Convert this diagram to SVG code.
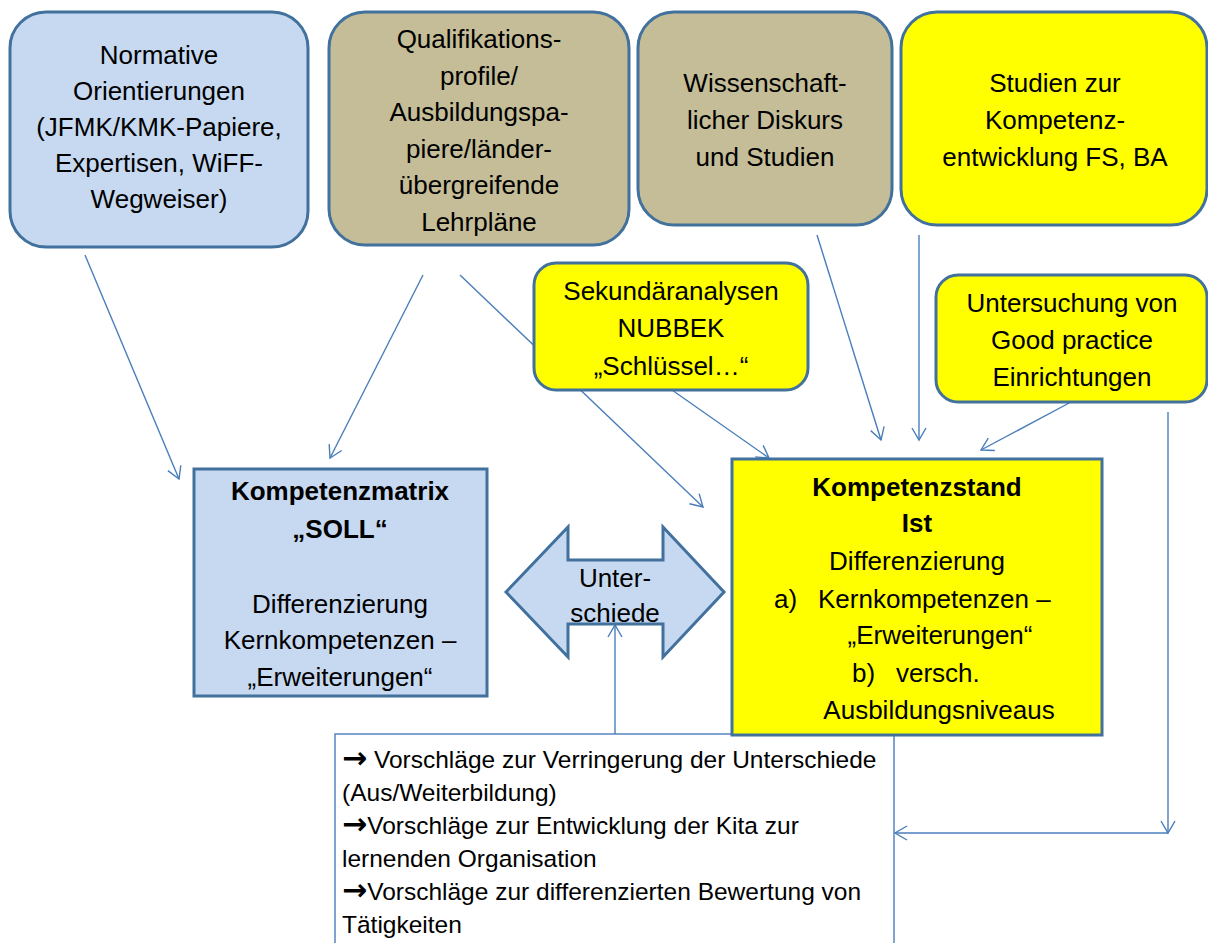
<svg xmlns="http://www.w3.org/2000/svg" width="1208" height="943" viewBox="0 0 1208 943">
<defs>
<style>
.t{font-family:"Liberation Sans",Arial,sans-serif;font-size:26px;fill:#000;text-anchor:middle}
.b{font-weight:bold}
.s{font-family:"Liberation Sans",Arial,sans-serif;font-size:24.5px;fill:#000}
.ar{font-family:"DejaVu Sans",sans-serif;font-size:30px;font-weight:bold}
.l{text-anchor:start}
.blue{fill:#C6D9F1;stroke:#41719C;stroke-width:3}
.tan{fill:#C4BD97;stroke:#41719C;stroke-width:3}
.yel{fill:#FFFF00;stroke:#41719C;stroke-width:3}
.c{fill:none;stroke:#4A7EBB;stroke-width:1.4;marker-end:url(#ah)}
</style>
<marker id="ah" markerUnits="userSpaceOnUse" markerWidth="16" markerHeight="16" refX="13" refY="8" orient="auto">
<path d="M1,1 L13,8 L1,15" fill="none" stroke="#4A7EBB" stroke-width="1.4"/>
</marker>
</defs>
<rect width="1208" height="943" fill="#fff"/>
<g id="connectors">
<line class="c" x1="85" y1="255" x2="179" y2="479"/>
<line class="c" x1="423" y1="275" x2="330" y2="458"/>
<line class="c" x1="460" y1="275" x2="703" y2="507"/>
<line class="c" x1="672" y1="390" x2="769" y2="458"/>
<line class="c" x1="817" y1="235" x2="881" y2="440"/>
<line class="c" x1="919" y1="235" x2="919" y2="440"/>
<line class="c" x1="1071" y1="402" x2="981" y2="450"/>
<line class="c" x1="1168" y1="412" x2="1168" y2="833"/>
<line class="c" x1="1168" y1="833" x2="895" y2="833"/>
<line class="c" x1="615" y1="735" x2="615" y2="625"/>
</g>
<g id="normative">
<rect class="blue" x="10" y="12" width="298" height="235" rx="36"/>
<text class="t" x="159" y="64">Normative</text>
<text class="t" x="159" y="100">Orientierungen</text>
<text class="t" x="159" y="136">(JFMK/KMK-Papiere,</text>
<text class="t" x="159" y="172">Expertisen, WiFF-</text>
<text class="t" x="159" y="208">Wegweiser)</text>
</g>
<g id="qualifikation">
<rect class="tan" x="329" y="12" width="300" height="233" rx="36"/>
<text class="t" x="479" y="48">Qualifikations-</text>
<text class="t" x="479" y="85">profile/</text>
<text class="t" x="479" y="121">Ausbildungspa-</text>
<text class="t" x="479" y="158">piere/länder-</text>
<text class="t" x="479" y="194">übergreifende</text>
<text class="t" x="479" y="231">Lehrpläne</text>
</g>
<g id="wissenschaft">
<rect class="tan" x="638" y="12" width="254" height="213" rx="36"/>
<text class="t" x="765" y="92">Wissenschaft-</text>
<text class="t" x="765" y="129">licher Diskurs</text>
<text class="t" x="765" y="166">und Studien</text>
</g>
<g id="studien">
<rect class="yel" x="901" y="12" width="306" height="213" rx="36"/>
<text class="t" x="1055" y="92">Studien zur</text>
<text class="t" x="1055" y="129">Kompetenz-</text>
<text class="t" x="1055" y="166">entwicklung FS, BA</text>
</g>
<g id="sekundaer">
<rect class="yel" x="534" y="263" width="274" height="127" rx="22"/>
<text class="t" x="671" y="300">Sekundäranalysen</text>
<text class="t" x="671" y="337">NUBBEK</text>
<text class="t" x="671" y="375">„Schlüssel…“</text>
</g>
<g id="untersuchung">
<rect class="yel" x="936" y="275" width="271" height="127" rx="22"/>
<text class="t" x="1072" y="312">Untersuchung von</text>
<text class="t" x="1072" y="349">Good practice</text>
<text class="t" x="1072" y="386">Einrichtungen</text>
</g>
<g id="kompetenzmatrix">
<rect class="blue" x="194" y="469" width="293" height="227"/>
<text class="t b" x="340" y="500">Kompetenzmatrix</text>
<text class="t b" x="340" y="538">„SOLL“</text>
<text class="t" x="340" y="613">Differenzierung</text>
<text class="t" x="340" y="649">Kernkompetenzen –</text>
<text class="t" x="340" y="686">„Erweiterungen“</text>
</g>
<g id="unterschiede">
<polygon class="blue" points="506,592 568,527 568,560 663,560 663,527 724,592 663,657 663,624 568,624 568,657"/>
<text class="t" x="615" y="587">Unter-</text>
<text class="t" x="615" y="622">schiede</text>
</g>
<g id="vorschlaege">
<rect x="335" y="734" width="559" height="220" fill="#fff" stroke="#4A7EBB" stroke-width="1.4"/>
<text class="s" x="342" y="768"><tspan class="ar">→</tspan> Vorschläge zur Verringerung der Unterschiede</text>
<text class="s" x="342" y="801">(Aus/Weiterbildung)</text>
<text class="s" x="342" y="834"><tspan class="ar">→</tspan>Vorschläge zur Entwicklung der Kita zur</text>
<text class="s" x="342" y="867">lernenden Organisation</text>
<text class="s" x="342" y="900"><tspan class="ar">→</tspan>Vorschläge zur differenzierten Bewertung von</text>
<text class="s" x="342" y="933">Tätigkeiten</text>
</g>
<g id="kompetenzstand">
<rect class="yel" x="732" y="459" width="370" height="276"/>
<text class="t b" x="917" y="496">Kompetenzstand</text>
<text class="t b" x="917" y="532">Ist</text>
<text class="t" x="917" y="570">Differenzierung</text>
<text class="t l" x="774" y="608">a)</text>
<text class="t l" x="818" y="608">Kernkompetenzen –</text>
<text class="t" x="940" y="644">„Erweiterungen“</text>
<text class="t l" x="852" y="682">b)</text>
<text class="t l" x="896" y="682">versch.</text>
<text class="t" x="939" y="719">Ausbildungsniveaus</text>
</g>
</svg>
